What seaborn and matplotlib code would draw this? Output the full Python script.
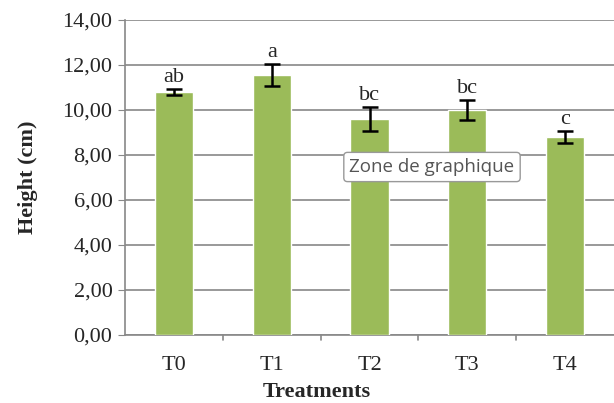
import pandas as pd
import matplotlib.pyplot as plt
import seaborn as sns

# =========================
# Dados
# =========================
treatments = ["T0", "T1", "T2", "T3", "T4"]
height_cm = [10.80, 11.55, 9.60, 10.00, 8.80]
height_err = [0.12, 0.50, 0.52, 0.45, 0.27]
letters = ["ab", "a", "bc", "bc", "c"]

df = pd.DataFrame({"Treatments": treatments, "Height": height_cm, "err": height_err})

sns.set_style("white")
plt.rcParams["font.family"] = ["Liberation Serif", "DejaVu Serif"]

fig = plt.figure(figsize=(6.14, 4.03), dpi=100)
ax = fig.add_axes([125 / 614, 1 - 335 / 403, 489 / 614, 315 / 403])

sns.barplot(data=df, x="Treatments", y="Height", color="#9BBB59",
            saturation=1, width=0.39, errorbar=None, ax=ax, zorder=3)

ax.errorbar(range(len(treatments)), df["Height"], yerr=df["err"],
            fmt="none", ecolor="black", elinewidth=1.8, capsize=6,
            capthick=1.8, zorder=4)

# letras de significancia
for i, (v, e, lab) in enumerate(zip(height_cm, height_err, letters)):
    ax.text(i, v + e + 0.1, lab, ha="center", va="bottom", fontsize=16, zorder=5)

# =========================
# Eixos
# =========================
ax.set_xlim(-0.5, 4.5)
ax.set_ylim(0, 14)
ax.set_yticks(range(0, 15, 2))
ax.set_yticklabels([f"{v:.2f}".replace(".", ",") for v in range(0, 15, 2)], fontsize=16)
ax.set_xticks(range(5))
ax.set_xticklabels(treatments, fontsize=16)
ax.tick_params(axis="x", length=0, pad=15)
ax.tick_params(axis="y", length=5, color="#888888", direction="out", left=True, pad=4)

# ticks entre categorias
for xb in [0.5, 1.5, 2.5, 3.5]:
    ax.plot([xb, xb], [0, -0.2], color="#888888", lw=1.2, clip_on=False, zorder=2)

ax.grid(axis="y", color="#888888", lw=1.2, zorder=0)
for s in ["top", "right"]:
    ax.spines[s].set_visible(False)
ax.spines["left"].set_color("#888888")
ax.spines["bottom"].set_color("#888888")
ax.spines["left"].set_linewidth(1.2)
ax.spines["bottom"].set_linewidth(1.2)

ax.set_ylabel("Height (cm)", fontsize=16, fontweight="bold")
ax.set_xlabel("Treatments", fontsize=16, fontweight="bold")
ax.yaxis.set_label_coords((38 - 125) / 489, 0.5)
ax.xaxis.set_label_coords((317 - 125) / 489, (335 - 382) / 315)

# tooltip do Excel
fig.text(432 / 614, 1 - 167 / 403, "Zone de graphique", ha="center", va="center",
         fontsize=13.5, color="#555555", family=["Open Sans", "DejaVu Sans"],
         bbox=dict(boxstyle="round,pad=0.3,rounding_size=0.2",
                   fc="white", ec="#999999", lw=1))

fig.savefig("out.png", dpi=100)
